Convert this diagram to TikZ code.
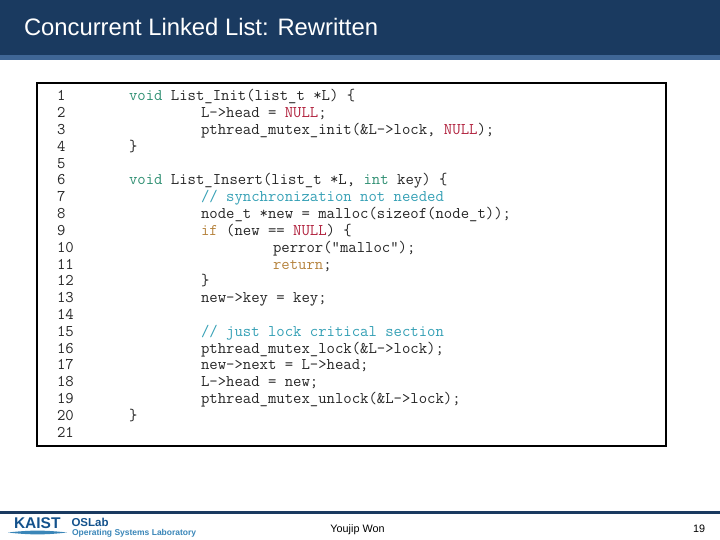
\documentclass[tikz,border=0pt]{standalone}
\usepackage{fontspec}
\setmainfont{Liberation Sans}
\definecolor{headdark}{HTML}{1A3A60}
\definecolor{headlight}{HTML}{3F6696}
\definecolor{kwgreen}{HTML}{2F8F72}
\definecolor{kwred}{HTML}{B0203C}
\definecolor{kwbrown}{HTML}{B5823C}
\definecolor{cmteal}{HTML}{35A0B5}
\definecolor{logoblue}{HTML}{14528C}
\definecolor{logolight}{HTML}{3A86B8}
\definecolor{codegray}{HTML}{262626}
\newcommand{\typ}[1]{\textcolor{kwgreen}{#1}}
\newcommand{\nul}{\textcolor{kwred}{NULL}}
\newcommand{\ctl}[1]{\textcolor{kwbrown}{#1}}
\newcommand{\cmt}[1]{\textcolor{cmteal}{#1}}
\begin{document}
\begin{tikzpicture}[x=1pt, y=-1pt, inner sep=0pt, outer sep=0pt,
  code/.style = {anchor=base west, text=codegray, font=\ttfamily\fontsize{16.27}{16}\selectfont},
  lineno/.style = {anchor=base west, text=codegray, font=\ttfamily\fontsize{16.27}{16}\selectfont},
  foot/.style = {anchor=base, font=\fontsize{10.8}{12}\selectfont}]
\useasboundingbox (0,0) rectangle (720,540);

\fill[headdark] (0,0) rectangle (720,55);
\fill[headlight] (0,55) rectangle (720,60);
\node[anchor=base west, text=white, font=\fontsize{23.8}{26}\selectfont] (title) at (24,35.5) {Concurrent Linked List: Rewritten};

\draw[line width=2.5pt] (37,83) rectangle (666,446);

\foreach \n in {1,...,21}
  \node[lineno] (N\n) at (57,{84.2+16.8*\n}) {\n};

\node[code] (L1) at (129,101) {\typ{void} List\_Init(list\_t *L) \{};
\node[code] (L2) at (201,117.8) {L->head = \nul;};
\node[code] (L3) at (201,134.6) {pthread\_mutex\_init(\&L->lock, \nul);};
\node[code] (L4) at (129,151.4) {\}};

\node[code] (L6) at (129,185) {\typ{void} List\_Insert(list\_t *L, \typ{int} key) \{};
\node[code] (L7) at (201,201.8) {\cmt{// synchronization not needed}};
\node[code] (L8) at (201,218.6) {node\_t *new = malloc(sizeof(node\_t));};
\node[code] (L9) at (201,235.4) {\ctl{if} (new == \nul) \{};
\node[code] (L10) at (273,252.2) {perror("malloc");};
\node[code] (L11) at (273,269) {\ctl{return};};
\node[code] (L12) at (201,285.8) {\}};
\node[code] (L13) at (201,302.6) {new->key = key;};

\node[code] (L15) at (201,336.2) {\cmt{// just lock critical section}};
\node[code] (L16) at (201,353) {pthread\_mutex\_lock(\&L->lock);};
\node[code] (L17) at (201,369.8) {new->next = L->head;};
\node[code] (L18) at (201,386.6) {L->head = new;};
\node[code] (L19) at (201,403.4) {pthread\_mutex\_unlock(\&L->lock);};
\node[code] (L20) at (129,420.2) {\}};

\fill[headdark] (0,511) rectangle (720,513.5);

% logo
\node[anchor=base west, text=logoblue, font=\bfseries\fontsize{15.5}{16}\selectfont] (kaist) at (14,528) {KAIST};
\fill[logolight] (8,532.5) .. controls (30,530) and (45,530) .. (67,532.5) .. controls (45,535) and (30,535) .. (8,532.5);
\node[anchor=base west, text=logoblue, font=\bfseries\fontsize{11.5}{13}\selectfont] (oslab) at (71.5,526) {OSLab};
\node[anchor=base west, text=logolight, font=\bfseries\fontsize{8.5}{10}\selectfont] (oslong) at (72,535) {Operating Systems Laboratory};

\node[foot] (author) at (357.5,532) {Youjip Won};
\node[foot] (page) at (699,532) {19};
\end{tikzpicture}
\end{document}
